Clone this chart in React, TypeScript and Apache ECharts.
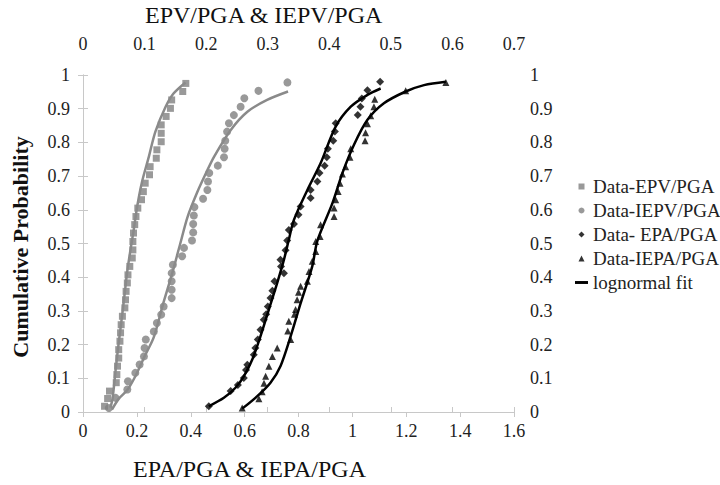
import React, { useEffect, useRef } from "react";
import * as echarts from "echarts";

// [x (top axis, EPV/PGA), cumulative probability]
const epvData: number[][] = [
  [0.035, 0.017], [0.040, 0.040], [0.043, 0.062], [0.054, 0.087], [0.055, 0.111],
  [0.056, 0.136], [0.058, 0.160], [0.058, 0.185], [0.060, 0.210], [0.061, 0.235],
  [0.062, 0.259], [0.064, 0.284], [0.068, 0.309], [0.069, 0.333], [0.070, 0.358],
  [0.072, 0.383], [0.073, 0.407], [0.076, 0.432], [0.080, 0.457], [0.081, 0.481],
  [0.081, 0.506], [0.082, 0.531], [0.084, 0.556], [0.086, 0.580], [0.089, 0.605],
  [0.095, 0.630], [0.098, 0.654], [0.101, 0.679], [0.108, 0.704], [0.109, 0.728],
  [0.119, 0.753], [0.120, 0.778], [0.127, 0.802], [0.127, 0.827], [0.127, 0.852],
  [0.135, 0.877], [0.142, 0.901], [0.144, 0.926], [0.162, 0.951], [0.167, 0.975],
];
const iepvData: number[][] = [
  [0.042, 0.012], [0.053, 0.042], [0.072, 0.067], [0.073, 0.091], [0.085, 0.116],
  [0.092, 0.141], [0.099, 0.165], [0.100, 0.190], [0.102, 0.215], [0.115, 0.239],
  [0.120, 0.264], [0.127, 0.289], [0.131, 0.313], [0.144, 0.338], [0.144, 0.363],
  [0.144, 0.388], [0.144, 0.412], [0.146, 0.437], [0.161, 0.462], [0.164, 0.487],
  [0.177, 0.509], [0.179, 0.533], [0.179, 0.558], [0.180, 0.583], [0.181, 0.608],
  [0.195, 0.633], [0.202, 0.659], [0.203, 0.684], [0.205, 0.709], [0.219, 0.731],
  [0.229, 0.756], [0.230, 0.781], [0.231, 0.805], [0.234, 0.832], [0.237, 0.857],
  [0.245, 0.881], [0.256, 0.906], [0.262, 0.931], [0.285, 0.953], [0.332, 0.978],
];
// [x (bottom axis, EPA/PGA), cumulative probability]
const epaData: number[][] = [
  [0.467, 0.017], [0.548, 0.062], [0.575, 0.080], [0.597, 0.101], [0.605, 0.125],
  [0.610, 0.140], [0.634, 0.170], [0.640, 0.190], [0.649, 0.215], [0.659, 0.244],
  [0.671, 0.274], [0.680, 0.290], [0.686, 0.313], [0.696, 0.338], [0.703, 0.360],
  [0.711, 0.388], [0.746, 0.412], [0.735, 0.432], [0.733, 0.452], [0.752, 0.480],
  [0.758, 0.509], [0.764, 0.540], [0.783, 0.558], [0.800, 0.585], [0.808, 0.610],
  [0.845, 0.635], [0.845, 0.659], [0.870, 0.684], [0.878, 0.709], [0.897, 0.731],
  [0.905, 0.756], [0.909, 0.781], [0.929, 0.805], [0.935, 0.832], [0.938, 0.857],
  [1.020, 0.881], [1.030, 0.906], [1.035, 0.930], [1.056, 0.955], [1.103, 0.980],
];
const iepaData: number[][] = [
  [0.591, 0.012], [0.653, 0.039], [0.665, 0.060], [0.672, 0.085], [0.678, 0.106],
  [0.690, 0.136], [0.703, 0.165], [0.721, 0.190], [0.771, 0.215], [0.760, 0.240],
  [0.764, 0.269], [0.785, 0.290], [0.789, 0.304], [0.795, 0.333], [0.800, 0.355],
  [0.808, 0.373], [0.833, 0.388], [0.839, 0.417], [0.851, 0.447], [0.864, 0.476],
  [0.864, 0.506], [0.880, 0.521], [0.882, 0.556], [0.932, 0.580], [0.932, 0.605],
  [0.938, 0.630], [0.947, 0.654], [0.954, 0.679], [0.963, 0.706], [0.975, 0.728],
  [0.991, 0.756], [0.994, 0.781], [1.047, 0.805], [1.049, 0.829], [1.056, 0.855],
  [1.068, 0.879], [1.080, 0.906], [1.083, 0.928], [1.198, 0.953], [1.347, 0.978],
];

// lognormal fit curves
const epvFit: number[][] = [
  [0.0445, 0.013], [0.048, 0.04], [0.0525, 0.116], [0.057, 0.19], [0.062, 0.264],
  [0.067, 0.34], [0.0715, 0.412], [0.077, 0.48], [0.082, 0.536], [0.088, 0.61],
  [0.096, 0.684], [0.107, 0.758], [0.1176, 0.832], [0.134, 0.905], [0.147, 0.945],
  [0.1665, 0.978],
];
const iepvFit: number[][] = [
  [0.047, 0.007], [0.058, 0.039], [0.072, 0.065], [0.085, 0.106], [0.1, 0.165],
  [0.115, 0.222], [0.13, 0.32], [0.145, 0.412], [0.158, 0.5], [0.17, 0.58],
  [0.185, 0.65], [0.2, 0.71], [0.213, 0.758], [0.24, 0.837], [0.267, 0.891],
  [0.299, 0.926], [0.333, 0.951],
];
const epaFit: number[][] = [
  [0.467, 0.017], [0.523, 0.042], [0.566, 0.072], [0.597, 0.106], [0.628, 0.155],
  [0.659, 0.225], [0.69, 0.304], [0.721, 0.383], [0.746, 0.452], [0.764, 0.511],
  [0.783, 0.57], [0.833, 0.659], [0.882, 0.738], [0.938, 0.847], [0.994, 0.906],
  [1.056, 0.941], [1.105, 0.96],
];
const iepaFit: number[][] = [
  [0.591, 0.01], [0.647, 0.047], [0.696, 0.087], [0.733, 0.136], [0.771, 0.225],
  [0.808, 0.323], [0.851, 0.432], [0.87, 0.508], [0.926, 0.62], [0.963, 0.709],
  [1.006, 0.793], [1.056, 0.867], [1.117, 0.916], [1.198, 0.951], [1.266, 0.97],
  [1.347, 0.98],
];

const legendNames = ["Data-EPV/PGA", "Data-IEPV/PGA", "Data- EPA/PGA", "Data-IEPA/PGA", "lognormal fit"];
const topAxisTitle = "EPV/PGA & IEPV/PGA";
const bottomAxisTitle = "EPA/PGA & IEPA/PGA";
const yAxisTitle = "Cumulative Probability";

const FONT = "Liberation Serif";
const GREY = "#808080";
const AXIS = "#c8c8c8";

export default function App() {
  const ref = useRef<HTMLDivElement>(null);
  useEffect(() => {
    if (!ref.current) return;
    const chart = echarts.init(ref.current, undefined, { renderer: "svg" });
    const labelStyle = { fontFamily: FONT, fontSize: 18, color: "#222" };
    const axisCommon = {
      type: "value" as const,
      splitLine: { show: false },
      axisLine: { show: true, lineStyle: { color: AXIS, width: 1 } },
      axisTick: { show: true, inside: false, length: 5, lineStyle: { color: AXIS } },
    };
    chart.setOption({
      animation: false,
      backgroundColor: "#fff",
      textStyle: { fontFamily: FONT, color: "#222" },
      grid: { left: 83, right: 206, top: 75, bottom: 73, containLabel: false },
      xAxis: [
        { ...axisCommon, position: "bottom", min: 0, max: 1.6, interval: 0.2,
          axisLabel: { ...labelStyle, margin: 10 } },
        { ...axisCommon, position: "top", min: 0, max: 0.7, interval: 0.1,
          axisLabel: { ...labelStyle, margin: 22 } },
      ],
      yAxis: [
        { ...axisCommon, position: "left", min: 0, max: 1, interval: 0.1,
          axisLabel: { ...labelStyle, margin: 13 } },
        { ...axisCommon, position: "right", min: 0, max: 1, interval: 0.1,
          axisLabel: { ...labelStyle, margin: 16 } },
      ],
      legend: {
        orient: "vertical",
        left: 570,
        top: 172,
        itemWidth: 13,
        itemHeight: 6,
        itemGap: 5,
        symbolKeepAspect: true,
        textStyle: { fontFamily: FONT, fontSize: 19, color: "#222", lineHeight: 19 },
        data: [
          { name: legendNames[0], icon: "path://M0 0H10V10H0Z" },
          { name: legendNames[1], icon: "circle" },
          { name: legendNames[2], icon: "path://M5 0L10 5L5 10L0 5Z" },
          { name: legendNames[3], icon: "path://M5 0L10 10H0Z" },
          { name: legendNames[4], icon: "path://M0 0H40V9H0Z" },
        ],
      },
      graphic: [
        { type: "text", left: 145, top: 3,
          style: { text: topAxisTitle, font: `24px ${FONT}`, fill: "#111" } },
        { type: "text", left: 133, top: 457,
          style: { text: bottomAxisTitle, font: `24px ${FONT}`, fill: "#111" } },
        { type: "text", x: 20, y: 247, rotation: Math.PI / 2,
          style: { text: yAxisTitle, font: `bold 22px ${FONT}`, fill: "#111",
                   align: "center", verticalAlign: "middle" } },
      ],
      series: [
        { name: legendNames[0], type: "scatter", xAxisIndex: 1, yAxisIndex: 0,
          symbol: "rect", symbolSize: 7, itemStyle: { color: GREY }, data: epvData },
        { name: legendNames[1], type: "scatter", xAxisIndex: 1, yAxisIndex: 0,
          symbol: "circle", symbolSize: 8, itemStyle: { color: GREY }, data: iepvData },
        { name: legendNames[2], type: "scatter", xAxisIndex: 0, yAxisIndex: 0,
          symbol: "diamond", symbolSize: 8, itemStyle: { color: "#000" }, data: epaData },
        { name: legendNames[3], type: "scatter", xAxisIndex: 0, yAxisIndex: 0,
          symbol: "triangle", symbolSize: 7, itemStyle: { color: "#000" }, data: iepaData },
        { name: legendNames[4], type: "line", xAxisIndex: 0, yAxisIndex: 0, symbol: "none",
          smooth: 0.3, lineStyle: { color: "#000", width: 2.5 }, itemStyle: { color: "#000" },
          data: epaFit },
        { name: legendNames[4], type: "line", xAxisIndex: 0, yAxisIndex: 0, symbol: "none",
          smooth: 0.3, lineStyle: { color: "#000", width: 2.5 }, itemStyle: { color: "#000" },
          data: iepaFit },
        { name: "fit-EPV", type: "line", xAxisIndex: 1, yAxisIndex: 0, symbol: "none",
          smooth: 0.3, lineStyle: { color: "#8a8a8a", width: 2.5 }, data: epvFit },
        { name: "fit-IEPV", type: "line", xAxisIndex: 1, yAxisIndex: 0, symbol: "none",
          smooth: 0.3, lineStyle: { color: "#8a8a8a", width: 2.5 }, data: iepvFit },
      ],
    });
    return () => chart.dispose();
  }, []);
  return (
    <div
      ref={ref}
      style={{ position: "fixed", left: 0, top: 0, width: 720, height: 485, background: "#fff" }}
    />
  );
}
